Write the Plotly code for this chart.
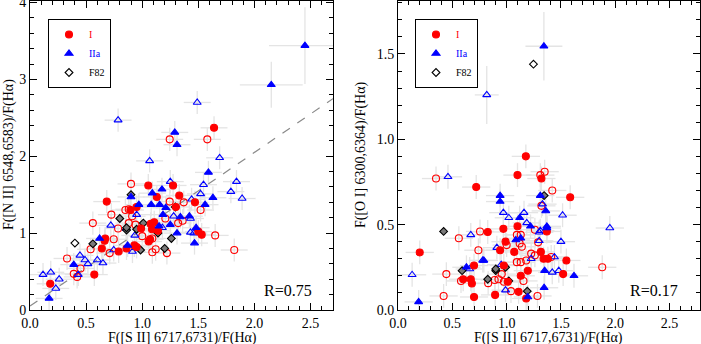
import plotly.graph_objects as go

# ---- left panel: [N II]/Ha vs [S II]/Ha ----
nii_I_x = [1.64, 1.054, 1.275, 1.13, 1.33, 0.684, 0.95, 1.47, 0.895, 1.075, 1.107, 0.99, 1.087, 1.14,
           1.50, 1.53, 0.67, 0.665, 1.07, 1.057, 0.93, 0.95, 0.86, 0.64, 0.79, 0.573, 0.18, 1.30]
nii_I_y = [2.37, 1.62, 1.62, 1.47, 1.49, 1.41, 1.34, 1.40, 1.30, 1.12, 1.14, 1.06, 1.05, 1.03,
           1.02, 0.98, 0.93, 0.90, 0.92, 0.89, 0.84, 0.82, 0.80, 0.80, 0.76, 0.46, 0.34, 1.34]
nii_Io_x = [1.245, 1.58, 0.90, 1.245, 1.37, 1.52, 0.85, 0.88, 0.725, 0.91, 1.206, 0.56, 0.88, 0.94, 1.32, 1.36,
            0.785, 1.00, 1.09, 1.65, 0.746, 0.54, 0.71, 1.12, 1.09, 1.22, 1.82, 0.33, 0.45, 0.39, 0.42]
nii_Io_y = [2.22, 2.22, 1.64, 1.41, 1.40, 1.30, 1.30, 1.31, 1.24, 1.22, 1.19, 1.13, 1.13, 1.11, 1.13, 1.16,
            1.06, 0.96, 0.93, 0.97, 0.92, 0.79, 0.74, 0.79, 0.75, 0.74, 0.78, 0.67, 0.54, 0.47, 0.43]
nii_IIa_x = [1.29, 1.31, 1.59, 1.176, 1.09, 0.90, 1.63, 0.97, 1.08, 1.56, 1.155, 1.21, 1.185, 1.34, 1.42,
             1.25, 1.15, 1.48, 1.31, 0.62, 1.466, 0.87, 0.39, 0.17]
nii_IIa_y = [2.31, 2.15, 1.79, 1.57, 1.52, 1.47, 1.46, 1.37, 1.37, 1.37, 1.37, 1.33, 1.24, 1.21, 1.22,
             1.11, 1.09, 1.07, 1.00, 0.93, 0.87, 0.84, 0.59, 0.15]
nii_IIa_big_x = [2.45, 2.15]
nii_IIa_big_y = [3.44, 2.93]
nii_IIa_big_ex = [0.32, 0.28]
nii_IIa_big_ey = [0.50, 0.30]
nii_IIao_x = [0.785, 1.49, 1.066, 1.69, 1.25, 1.84, 1.546, 1.79, 1.89, 1.52, 1.44, 0.95, 1.28, 1.43, 0.72, 1.18,
              0.857, 1.43, 1.46, 0.934, 0.746, 0.913, 0.445, 0.49, 0.516, 0.60, 0.65, 0.43, 0.116, 0.185, 0.26, 0.23]
nii_IIao_y = [2.47, 2.70, 1.94, 1.98, 1.67, 1.67, 1.63, 1.54, 1.45, 1.51, 1.44, 1.24, 1.22, 1.19, 1.10, 1.07,
              1.06, 1.01, 1.00, 0.97, 0.78, 0.76, 0.71, 0.65, 0.60, 0.65, 0.61, 0.46, 0.46, 0.49, 0.40, 0.28]
nii_F82_x = [0.90, 1.295, 1.01, 0.86, 0.95, 1.14, 1.26, 0.56, 0.985, 1.20, 0.80, 0.86]
nii_F82_y = [1.50, 1.34, 1.13, 1.04, 1.05, 1.00, 0.93, 0.86, 0.78, 0.80, 1.19, 1.07]
nii_F82o_x = [0.40]
nii_F82o_y = [0.87]
nii_err = (0.12, 0.15)
nii_yticks = [0, 1, 2, 3, 4]
fit_slope, fit_icpt = 1.0, 0.05

# ---- right panel: [O I]/Ha vs [S II]/Ha ----
oi_I_x = [1.177, 1.10, 1.32, 0.72, 1.585, 1.10, 0.97, 1.37, 0.826, 0.99, 0.94, 1.07, 1.315, 0.20, 1.34,
          1.38, 1.55, 0.70, 0.974, 1.195, 1.13, 1.52, 0.60, 0.67, 0.68, 1.01, 1.11, 0.894, 0.70, 1.18]
oi_I_y = [0.90, 0.79, 0.77, 0.72, 0.66, 0.49, 0.475, 0.46, 0.457, 0.40, 0.35, 0.34, 0.34, 0.337, 0.30,
          0.30, 0.29, 0.26, 0.26, 0.23, 0.20, 0.21, 0.18, 0.18, 0.155, 0.165, 0.106, 0.088, 0.076, 0.067]
oi_Io_x = [1.35, 1.31, 0.35, 1.42, 1.32, 1.26, 0.755, 1.094, 1.13, 0.56, 1.12, 1.29, 0.74, 1.00, 1.14, 1.226,
           1.26, 1.41, 1.18, 1.094, 1.13, 1.88, 0.445, 0.58, 0.83, 0.89, 0.925, 0.955, 1.155, 1.04, 0.42, 1.284, 0.975]
oi_Io_y = [0.81, 0.79, 0.77, 0.70, 0.61, 0.47, 0.46, 0.44, 0.44, 0.42, 0.39, 0.396, 0.35, 0.38, 0.37, 0.33,
           0.32, 0.31, 0.29, 0.28, 0.28, 0.25, 0.21, 0.17, 0.157, 0.175, 0.18, 0.21, 0.17, 0.11, 0.082, 0.082, 0.165]
oi_IIa_x = [0.94, 1.31, 0.94, 1.36, 1.12, 1.22, 1.37, 1.37, 1.085, 1.13, 0.79, 0.63, 1.35, 1.62, 1.345, 1.195, 0.19]
oi_IIa_y = [0.67, 0.67, 0.635, 0.58, 0.54, 0.49, 0.49, 0.48, 0.41, 0.42, 0.29, 0.25, 0.23, 0.20, 0.13, 0.076, 0.047]
oi_IIa_big_x = [1.343]
oi_IIa_big_y = [1.545]
oi_IIa_big_ex = [0.17]
oi_IIa_big_ey = [0.20]
oi_IIao_x = [0.46, 1.33, 0.97, 1.16, 1.02, 1.515, 1.185, 1.95, 1.31, 1.30, 0.67, 1.30, 1.50, 0.91, 1.44,
             1.226, 0.78, 0.95, 0.66, 1.42, 1.48, 0.13, 0.99]
oi_IIao_y = [0.78, 0.62, 0.57, 0.57, 0.54, 0.555, 0.51, 0.48, 0.465, 0.455, 0.44, 0.405, 0.40, 0.365, 0.31,
             0.30, 0.29, 0.265, 0.24, 0.22, 0.23, 0.206, 0.116]
oi_IIao_big_x = [0.817]
oi_IIao_big_y = [1.26]
oi_IIao_big_ex = [0.11]
oi_IIao_big_ey = [0.17]
oi_F82_x = [1.345, 0.42, 0.90, 0.99, 0.59, 0.826, 1.02, 1.19, 0.90]
oi_F82_y = [0.67, 0.46, 0.23, 0.25, 0.23, 0.18, 0.17, 0.11, 0.24]
oi_F82o_x = [1.247]
oi_F82o_y = [1.44]
oi_err = (0.13, 0.07)

RED, BLUE = "#ff0000", "#0000ff"
ERRC = "#e4e4e4"
FONT = "Liberation Serif"

fig = go.Figure()


def errbars(x, y, ex, ey, ax):
    # error bars drawn first so all markers sit on top
    ex = ex if isinstance(ex, list) else [ex] * len(x)
    ey = ey if isinstance(ey, list) else [ey] * len(x)
    fig.add_trace(go.Scatter(
        x=x, y=y, mode="markers", xaxis=ax[0], yaxis=ax[1], showlegend=False, hoverinfo="skip",
        marker=dict(size=1, color="rgba(0,0,0,0)"),
        error_x=dict(type="data", array=ex, color=ERRC, thickness=1.3, width=0),
        error_y=dict(type="data", array=ey, color=ERRC, thickness=1.3, width=0)))


def pts(x, y, symbol, color, fill, ax, size, name=None, legend=None):
    fig.add_trace(go.Scatter(
        x=x, y=y, mode="markers", xaxis=ax[0], yaxis=ax[1],
        name=name or "", showlegend=name is not None, legend=legend,
        marker=dict(symbol=symbol, size=size, color=fill, line=dict(color=color, width=1.1))))


L = ("x", "y")
R = ("x2", "y2")

errbars(nii_I_x + nii_Io_x + nii_IIa_x + nii_IIao_x, nii_I_y + nii_Io_y + nii_IIa_y + nii_IIao_y,
        nii_err[0], nii_err[1], L)
errbars(nii_IIa_big_x, nii_IIa_big_y, nii_IIa_big_ex, nii_IIa_big_ey, L)
errbars(oi_I_x + oi_Io_x + oi_IIa_x + oi_IIao_x, oi_I_y + oi_Io_y + oi_IIa_y + oi_IIao_y,
        oi_err[0], oi_err[1], R)
errbars(oi_IIa_big_x, oi_IIa_big_y, oi_IIa_big_ex, oi_IIa_big_ey, R)
errbars(oi_IIao_big_x, oi_IIao_big_y, oi_IIao_big_ex, oi_IIao_big_ey, R)

# fit line on the left panel
fx = [0, 2.7]
fig.add_trace(go.Scatter(x=fx, y=[fit_icpt + fit_slope * v for v in fx], mode="lines",
                         line=dict(color="#8a8a8a", width=1.2, dash="dash"),
                         showlegend=False, hoverinfo="skip"))

for ax, leg, d in [(L, "legend", dict(I=(nii_I_x, nii_I_y), Io=(nii_Io_x, nii_Io_y),
                                      A=(nii_IIa_x + nii_IIa_big_x, nii_IIa_y + nii_IIa_big_y),
                                      Ao=(nii_IIao_x, nii_IIao_y), F=(nii_F82_x, nii_F82_y),
                                      Fo=(nii_F82o_x, nii_F82o_y))),
                   (R, "legend2", dict(I=(oi_I_x, oi_I_y), Io=(oi_Io_x, oi_Io_y),
                                       A=(oi_IIa_x + oi_IIa_big_x, oi_IIa_y + oi_IIa_big_y),
                                       Ao=(oi_IIao_x + oi_IIao_big_x, oi_IIao_y + oi_IIao_big_y),
                                       F=(oi_F82_x, oi_F82_y), Fo=(oi_F82o_x, oi_F82o_y)))]:
    pts(*d["Io"], "circle-open", RED, RED, ax, 7)
    pts(*d["Ao"], "triangle-up-open", BLUE, BLUE, ax, 7)
    pts(*d["F"], "diamond", "#000000", "#7a7a7a", ax, 6)
    pts(*d["I"], "circle", RED, RED, ax, 7, "<span style='color:#ff0000'>I</span>", leg)
    pts(*d["A"], "triangle-up", BLUE, BLUE, ax, 7, "<span style='color:#0000ff'>IIa</span>", leg)
    pts(*d["Fo"], "diamond-open", "#000000", "#000000", ax, 6, "F82", leg)

tick = dict(ticks="inside", ticklen=7, tickwidth=1, tickcolor="black", showline=True, linecolor="black",
            linewidth=1, mirror="allticks", showgrid=False, zeroline=False, automargin=False,
            tickfont=dict(family=FONT, size=14, color="black"))


def minor(dt):
    return dict(ticks="inside", ticklen=4, tickcolor="black", dtick=dt, showgrid=False)


def note(text, px, py, size=14, angle=0):
    return dict(text=text, x=px / 701, y=1 - py / 344, xref="paper", yref="paper", showarrow=False,
                xanchor="center", yanchor="middle", textangle=angle, font=dict(family=FONT, size=size))


YD = [0.099, 0.997]
leg_style = dict(xanchor="left", yanchor="top", bordercolor="black", borderwidth=1, bgcolor="white",
                 font=dict(family=FONT, size=10), itemwidth=30, tracegroupgap=0)
fig.update_layout(
    width=701, height=344, margin=dict(l=0, r=0, t=0, b=0, autoexpand=False),
    paper_bgcolor="white", plot_bgcolor="white",
    font=dict(family=FONT, size=14, color="black"),
    xaxis=dict(domain=[30 / 701, 333 / 701], range=[0, 2.7], dtick=0.5, tickformat=".1f",
               minor=minor(0.1), ticklabelstandoff=0, **tick),
    # the top label sits at the very edge of the frame, so let it overflow instead of being hidden
    yaxis=dict(domain=YD, range=[0, 4.02], tickvals=nii_yticks, ticktext=[str(v) for v in nii_yticks],
               minor=minor(0.2), ticklabeloverflow="allow", **tick),
    xaxis2=dict(domain=[398 / 701, 700 / 701], range=[0, 2.78], dtick=0.5, tickformat=".1f",
                minor=minor(0.1), anchor="y2", ticklabelstandoff=0, **tick),
    yaxis2=dict(domain=YD, range=[0, 1.81], dtick=0.5, tickformat=".1f", minor=minor(0.1),
                anchor="x2", **tick),
    legend=dict(x=48 / 701, y=1 - 19 / 344, **leg_style),
    legend2=dict(x=415 / 701, y=1 - 19 / 344, **leg_style),
    annotations=[
        note("R=0.75", 288, 290, 16),
        note("R=0.17", 654, 290, 16),
        note("F([S II] 6717,6731)/F(Hα)", 182, 338),
        note("F([S II] 6717,6731)/F(Hα)", 548, 338),
        note("F([N II] 6548,6583)/F(Hα)", 9, 155, angle=-90),
        note("F([O I] 6300,6364)/F(Hα)", 361, 155, angle=-90),
    ],
)

fig.write_html("out.html", config={"displayModeBar": False},
               post_script="document.body.style.margin='0';")
